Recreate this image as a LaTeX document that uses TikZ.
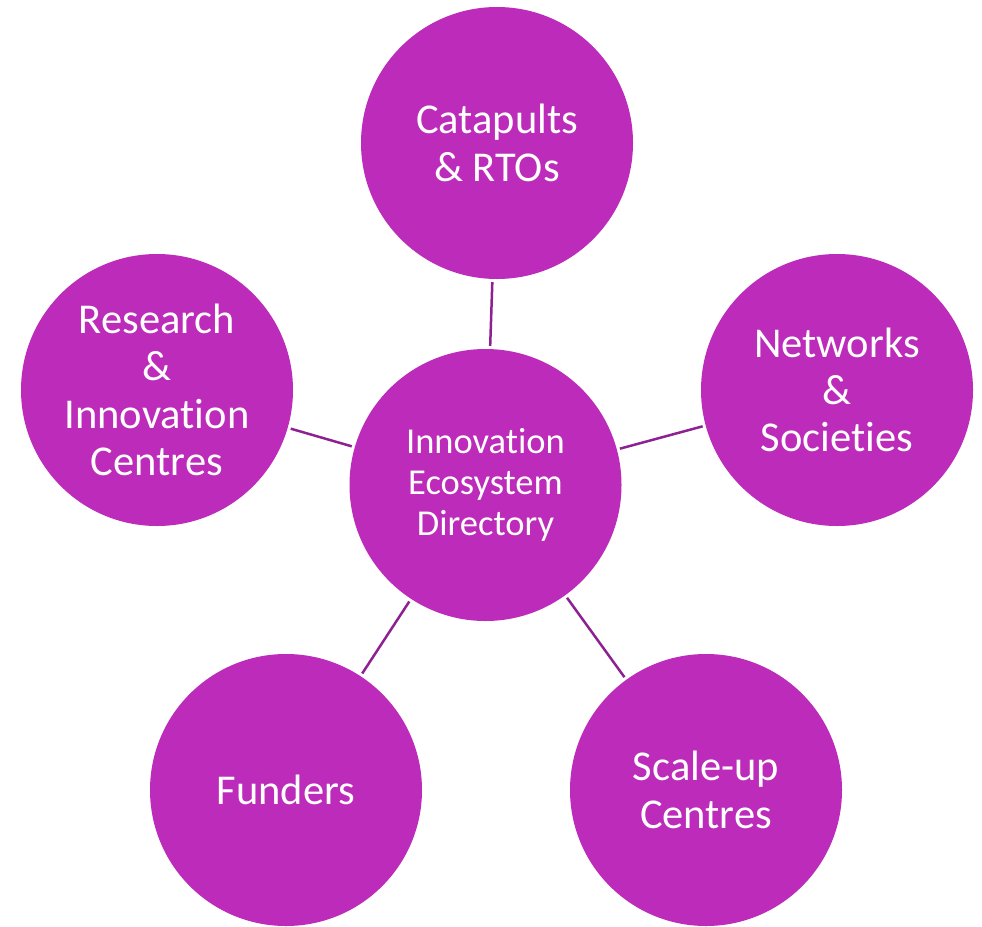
\documentclass[tikz,border=0pt]{standalone}
\usepackage{fontspec}
\setmainfont[Ligatures=NoCommon]{Carlito}
\newcommand{\nolig}{\kern0pt\relax}
\definecolor{bubble}{HTML}{BC2BB9}
\definecolor{link}{HTML}{8E2191}
\begin{document}
\begin{tikzpicture}[x=1pt,y=-1pt,
  bub/.style={circle,fill=bubble,draw=none,minimum size=272pt,inner sep=0pt,
    text=white,align=center,font=\fontsize{42.5}{47.3}\selectfont},
  hub/.style={bub,font=\fontsize{36.5}{41}\selectfont},
  conn/.style={draw=link,line width=2.5pt,shorten <=3pt,shorten >=3pt}]
\useasboundingbox (0,0) rectangle (982,926);
\node[hub] (c) at (485.5,485) {Innovat\nolig ion\\Ecosystem\\Directory};
\node[bub] (t) at (497,143) {Catapults\\\& RTOs};
\node[bub] (l) at (157,390) {Research\\\&\\Innovat\nolig ion\\Centres};
\node[bub] (r) at (837,390) {Networks\\\&\\Societ\nolig ies};
\node[bub] (bl) at (286,790) {Funders};
\node[bub] (br) at (706,790) {Scale-up\\Centres};
\draw[conn] (c) -- (t);
\draw[conn] (c) -- (l);
\draw[conn] (c) -- (r);
\draw[conn] (c) -- (bl);
\draw[conn] (c) -- (br);
\end{tikzpicture}
\end{document}
